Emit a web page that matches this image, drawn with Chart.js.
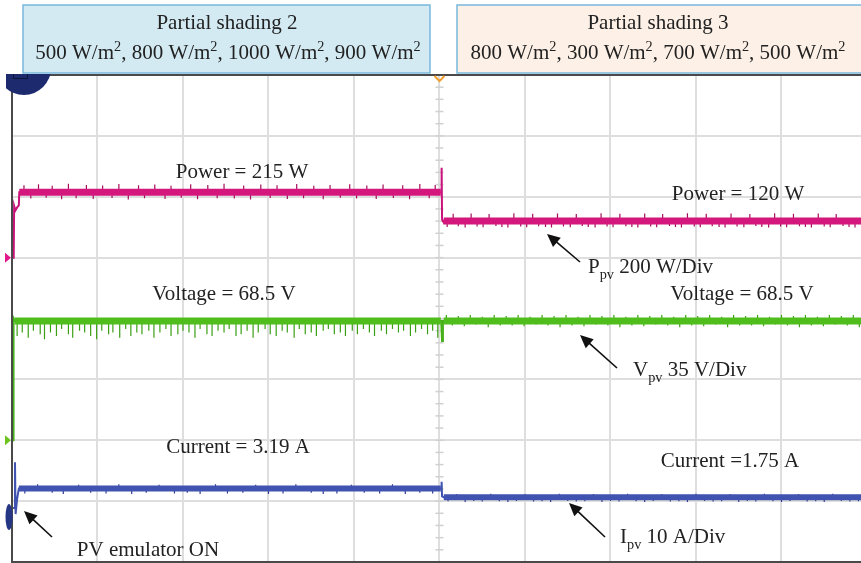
<!DOCTYPE html>
<html>
<head>
<meta charset="utf-8">
<script src="https://cdn.jsdelivr.net/npm/chart.js@4.4.0/dist/chart.umd.min.js"></script>
<style>
html, body { margin: 0; padding: 0; background: #fff; }
#wrap { position: relative; width: 861px; height: 563px; }
</style>
</head>
<body>
<div id="wrap"><canvas id="scope"></canvas></div>
<script>
// time base in screen divisions (10 div across, right edge cut off)
const timeDivs = [0, 1, 2, 3, 4, 5, 6, 7, 8, 9];
const stepT = 5.02;   // irradiance change from shading 2 to shading 3
const endT = 9.93;

// main shape of each channel (x in divisions)
const powerT = [0, 0.02, 0.025, 0.04, 0.06, 0.08, 0.085, 5.02, 5.025, 5.03, 5.04, 9.93];
const powerV = [0, 0, 170, 155, 165, 172, 215, 215, 295, 125, 120, 120];

const voltT = [0, 0.012, 0.018, 0.03, 5.02, 5.03, 5.04, 9.93];
const voltV = [0, 0, 70, 68.5, 68.5, 57, 68.5, 68.5];

const currT = [0, 0.03, 0.035, 0.042, 0.06, 0.08, 5.02, 5.025, 5.03, 5.05, 9.93];
const currV = [0, 0, 7.5, -1.0, 1.5, 3.19, 3.19, 4.3, 1.9, 1.75, 1.75];

// steady levels before / after the step (same as the labels)
const powerLevels = [215, 120];
const voltLevels = [68.5, 68.5];
const currLevels = [3.19, 1.75];
// where each channel settles after switch-on
const settleT = [0.085, 0.03, 0.08];

// switching noise glitches on each trace
const powerSpikeT = [0.14, 0.22, 0.31, 0.4, 0.47, 0.58, 0.66, 0.75, 0.87, 0.95, 1.06, 1.17, 1.25, 1.36, 1.48, 1.55, 1.67, 1.79, 1.86, 1.98,
  2.09, 2.17, 2.29, 2.4, 2.48, 2.6, 2.71, 2.79, 2.91, 3.02, 3.1, 3.22, 3.33, 3.41, 3.53, 3.64, 3.72, 3.84, 3.95, 4.03,
  4.15, 4.26, 4.34, 4.46, 4.57, 4.65, 4.77, 4.88, 4.95,
  5.09, 5.16, 5.22, 5.3, 5.37, 5.44, 5.51, 5.58, 5.66, 5.73, 5.8, 5.87, 5.95, 6.02, 6.09, 6.16, 6.24, 6.31, 6.38, 6.45,
  6.53, 6.6, 6.67, 6.74, 6.82, 6.89, 6.96, 7.03, 7.11, 7.18, 7.25, 7.32, 7.4, 7.47, 7.54, 7.61, 7.69, 7.76, 7.83, 7.9,
  7.98, 8.05, 8.12, 8.19, 8.27, 8.34, 8.41, 8.48, 8.56, 8.63, 8.7, 8.77, 8.85, 8.92, 8.99, 9.06, 9.14, 9.21, 9.28, 9.35,
  9.43, 9.5, 9.57, 9.64, 9.72, 9.79, 9.86];
const powerSpikeV = [238, 194, 241, 197, 236, 192, 243, 195, 239, 193, 237, 196, 242, 191, 238, 195, 240, 193, 236, 197,
  241, 192, 239, 195, 243, 194, 237, 191, 240, 196, 238, 193, 242, 195, 236, 192, 239, 197, 241, 194,
  237, 193, 240, 196, 238, 192, 242, 195, 239,
  101, 144, 103, 99, 145, 102, 100, 143, 104, 101, 99, 146, 102, 100, 144, 103, 101, 99, 145, 102,
  100, 143, 104, 101, 99, 146, 102, 100, 144, 103, 101, 99, 145, 102, 100, 143, 104, 101, 99, 146,
  102, 100, 144, 103, 101, 99, 145, 102, 100, 143, 104, 101, 99, 146, 102, 100, 144, 103, 101, 99,
  145, 102, 100, 143, 104, 101, 99];

const voltSpikeT = [0.06, 0.12, 0.19, 0.25, 0.33, 0.38, 0.45, 0.52, 0.58, 0.66, 0.71, 0.79, 0.85, 0.92, 0.99, 1.05, 1.13, 1.18, 1.26, 1.33,
  1.39, 1.46, 1.52, 1.6, 1.66, 1.73, 1.8, 1.86, 1.94, 2.0, 2.07, 2.14, 2.2, 2.28, 2.34, 2.41, 2.48, 2.54, 2.62, 2.68,
  2.75, 2.82, 2.88, 2.96, 3.02, 3.09, 3.16, 3.22, 3.3, 3.36, 3.43, 3.5, 3.56, 3.64, 3.7, 3.77, 3.84, 3.9, 3.98, 4.04,
  4.11, 4.18, 4.24, 4.32, 4.38, 4.45, 4.52, 4.58, 4.66, 4.72, 4.79, 4.86, 4.92, 4.98,
  5.08, 5.15, 5.22, 5.29, 5.36, 5.43, 5.5, 5.57, 5.64, 5.71, 5.78, 5.85, 5.92, 5.99, 6.06, 6.13, 6.2, 6.27, 6.34, 6.41,
  6.48, 6.55, 6.62, 6.69, 6.76, 6.83, 6.9, 6.97, 7.04, 7.11, 7.18, 7.25, 7.32, 7.39, 7.46, 7.53, 7.6, 7.67, 7.74, 7.81,
  7.88, 7.95, 8.02, 8.09, 8.16, 8.23, 8.3, 8.37, 8.44, 8.51, 8.58, 8.65, 8.72, 8.79, 8.86, 8.93, 9.0, 9.07, 9.14, 9.21,
  9.28, 9.35, 9.42, 9.49, 9.56, 9.63, 9.7, 9.77, 9.84, 9.91];
const voltSpikeV = [60, 62, 59, 63, 61, 58, 62, 60, 64, 61, 59, 63, 62, 60, 58, 63, 61, 62, 59, 64,
  60, 62, 61, 63, 59, 62, 64, 60, 61, 63, 62, 59, 64, 61, 60, 63, 62, 64, 60, 61,
  63, 59, 62, 64, 61, 60, 63, 62, 59, 64, 61, 62, 60, 63, 64, 61, 62, 60, 63, 61,
  64, 62, 60, 63, 61, 64, 62, 63, 60, 62, 64, 61, 63, 59,
  72, 66, 71.5, 65.5, 72, 66.5, 71, 65, 72, 66, 71.5, 66, 72, 65.5, 71, 66.5, 72, 66, 71.5, 65,
  72, 66, 71, 65.5, 72, 66.5, 71.5, 66, 72, 65, 71, 66, 72, 65.5, 71.5, 66.5, 72, 66, 71, 65,
  72, 66, 71.5, 65.5, 72, 66.5, 71, 65, 72, 66, 71.5, 66, 72, 65.5, 71, 66.5, 72, 66, 71.5, 65,
  72, 66, 71, 65.5, 72, 66.5, 71.5, 66, 72, 65];

const currSpikeT = [0.15, 0.3, 0.47, 0.6, 0.78, 0.92, 1.1, 1.25, 1.4, 1.57, 1.72, 1.9, 2.05, 2.2, 2.38, 2.52, 2.7, 2.85, 3.0, 3.17,
  3.32, 3.5, 3.64, 3.8, 3.97, 4.12, 4.3, 4.45, 4.6, 4.77, 4.92,
  5.1, 5.2, 5.3, 5.4, 5.5, 5.6, 5.7, 5.8, 5.9, 6.0, 6.1, 6.2, 6.3, 6.4, 6.5, 6.6, 6.7, 6.8, 6.9, 7.0,
  7.1, 7.2, 7.3, 7.4, 7.5, 7.6, 7.7, 7.8, 7.9, 8.0, 8.1, 8.2, 8.3, 8.4, 8.5, 8.6, 8.7, 8.8, 8.9, 9.0,
  9.1, 9.2, 9.3, 9.4, 9.5, 9.6, 9.7, 9.8, 9.9];
const currSpikeV = [2.4, 3.9, 2.5, 2.3, 3.8, 2.5, 2.4, 3.9, 2.3, 2.5, 3.8, 2.4, 2.5, 2.3, 3.9, 2.4, 2.5, 3.8, 2.3, 2.4,
  3.9, 2.5, 2.3, 2.4, 3.8, 2.5, 2.4, 3.9, 2.3, 2.5, 2.4,
  1.1, 2.3, 1.0, 1.15, 1.05, 2.35, 1.1, 1.0, 1.15, 2.3, 1.05, 1.1, 1.0, 2.35, 1.15, 1.05, 1.1, 2.3, 1.0, 1.15,
  1.05, 2.35, 1.1, 1.0, 1.15, 2.3, 1.05, 1.1, 1.0, 2.35, 1.15, 1.05, 1.1, 2.3, 1.0, 1.15, 1.05, 2.35, 1.1, 1.0,
  1.15, 2.3, 1.05, 1.1, 1.0, 2.35, 1.15, 1.05, 1.1];

function toPoints(ts, vs) {
  return ts.map((t, i) => ({ x: t, y: vs[i] }));
}

// flat part of a trace: thick noise band on both sides of the step
function band(levels, t0) {
  return [
    { x: t0, y: levels[0] }, { x: stepT - 0.005, y: levels[0] }, { x: stepT, y: null },
    { x: stepT + 0.03, y: levels[1] }, { x: endT, y: levels[1] }
  ];
}

// each glitch is a short vertical stroke from the steady level
function glitches(ts, vs, levels) {
  const pts = [];
  ts.forEach((t, i) => {
    const base = t < stepT ? levels[0] : levels[1];
    pts.push({ x: t, y: base }, { x: t, y: vs[i] }, { x: t, y: null });
  });
  return pts;
}

function trace(label, data, axis, color, width) {
  return {
    label: label, data: data, yAxisID: axis,
    borderColor: color, borderWidth: width, borderCapStyle: 'butt',
    pointRadius: 0, tension: 0, spanGaps: false, fill: false
  };
}

const SERIF = '"Liberation Serif", "DejaVu Serif", serif';

// text with superscript / subscript pieces
function drawRuns(ctx, runs, x, baseline, size, align) {
  let total = 0;
  runs.forEach(r => {
    ctx.font = (r.sup || r.sub ? size * 0.68 : size) + 'px ' + SERIF;
    r.w = ctx.measureText(r.t).width;
    total += r.w;
  });
  let cx = align === 'center' ? x - total / 2 : x;
  ctx.textAlign = 'left';
  ctx.textBaseline = 'alphabetic';
  runs.forEach(r => {
    ctx.font = (r.sup || r.sub ? size * 0.68 : size) + 'px ' + SERIF;
    let by = baseline;
    if (r.sup) by = baseline - size * 0.38;
    if (r.sub) by = baseline + size * 0.28;
    ctx.fillText(r.t, cx, by);
    cx += r.w;
  });
}

function arrow(ctx, x1, y1, x2, y2) {
  const a = Math.atan2(y2 - y1, x2 - x1);
  const L = 13, W = 6;
  ctx.strokeStyle = '#111';
  ctx.fillStyle = '#111';
  ctx.lineWidth = 1.6;
  ctx.beginPath();
  ctx.moveTo(x1, y1);
  ctx.lineTo(x2 - Math.cos(a) * L * 0.8, y2 - Math.sin(a) * L * 0.8);
  ctx.stroke();
  ctx.beginPath();
  ctx.moveTo(x2, y2);
  ctx.lineTo(x2 - Math.cos(a) * L + Math.sin(a) * W, y2 - Math.sin(a) * L - Math.cos(a) * W);
  ctx.lineTo(x2 - Math.cos(a) * L - Math.sin(a) * W, y2 - Math.sin(a) * L + Math.cos(a) * W);
  ctx.closePath();
  ctx.fill();
}

const scopeDecor = {
  id: 'scopeDecor',
  beforeDatasetsDraw(chart) {
    const ctx = chart.ctx, area = chart.chartArea;
    const cx = chart.scales.x.getPixelForValue(5);
    // minor ticks along the centre graticule line
    ctx.save();
    ctx.strokeStyle = '#d0d0d0';
    ctx.lineWidth = 1.5;
    const divH = (area.bottom - area.top) / 8;
    for (let k = 1; k < 40; k++) {
      const y = area.top + k * divH / 5;
      ctx.beginPath();
      ctx.moveTo(cx - 4, y);
      ctx.lineTo(cx + 4, y);
      ctx.stroke();
    }
    ctx.restore();
  },
  afterDraw(chart) {
    const ctx = chart.ctx, area = chart.chartArea;
    const xs = chart.scales.x;
    ctx.save();

    // frame
    ctx.strokeStyle = '#4a4a4a';
    ctx.lineWidth = 2;
    ctx.beginPath();
    ctx.moveTo(chart.width, area.top);
    ctx.lineTo(area.left, area.top);
    ctx.lineTo(area.left, area.bottom);
    ctx.lineTo(chart.width, area.bottom);
    ctx.stroke();

    // channel reference markers on the left edge
    const pz = chart.scales.yP.getPixelForValue(0);
    const vz = chart.scales.yV.getPixelForValue(0);
    const iz = chart.scales.yI.getPixelForValue(0);
    ctx.fillStyle = '#e0188a';
    ctx.beginPath(); ctx.moveTo(5, pz - 5); ctx.lineTo(11, pz); ctx.lineTo(5, pz + 5); ctx.fill();
    ctx.fillStyle = '#6cc41c';
    ctx.beginPath(); ctx.moveTo(5, vz - 5); ctx.lineTo(11, vz); ctx.lineTo(5, vz + 5); ctx.fill();
    ctx.fillStyle = '#253685';
    ctx.beginPath(); ctx.ellipse(9, iz + 9, 3.5, 13, 0, 0, Math.PI * 2); ctx.fill();

    // trigger marker
    const cx = xs.getPixelForValue(5);
    ctx.strokeStyle = '#f0a030';
    ctx.lineWidth = 2;
    ctx.beginPath(); ctx.moveTo(cx - 5, area.top + 1); ctx.lineTo(cx, area.top + 6); ctx.lineTo(cx + 5, area.top + 1); ctx.stroke();

    // navy badge in the top-left corner
    ctx.save();
    ctx.beginPath(); ctx.rect(6, 74, 60, 40); ctx.clip();
    ctx.fillStyle = '#1d2b6e';
    ctx.beginPath(); ctx.arc(24, 68, 27, 0, Math.PI * 2); ctx.fill();
    ctx.strokeStyle = '#0e153d';
    ctx.lineWidth = 1;
    ctx.strokeRect(13.5, 72.5, 14, 6);
    ctx.restore();

    // captions
    ctx.fillStyle = '#d3eaf3';
    ctx.fillRect(23, 5, 407, 68);
    ctx.strokeStyle = '#78b8dc';
    ctx.lineWidth = 1.5;
    ctx.strokeRect(23, 5, 407, 68);
    ctx.fillStyle = '#fdf0e6';
    ctx.fillRect(457, 5, 410, 68);
    ctx.strokeRect(457, 5, 410, 68);

    ctx.fillStyle = '#222';
    const S = 21;
    drawRuns(ctx, [{ t: 'Partial shading 2' }], 227, 29, S, 'center');
    drawRuns(ctx, [{ t: '500 W/m' }, { t: '2', sup: 1 }, { t: ', 800 W/m' }, { t: '2', sup: 1 },
      { t: ', 1000 W/m' }, { t: '2', sup: 1 }, { t: ', 900 W/m' }, { t: '2', sup: 1 }], 228, 59, S, 'center');
    drawRuns(ctx, [{ t: 'Partial shading 3' }], 658, 29, S, 'center');
    drawRuns(ctx, [{ t: '800 W/m' }, { t: '2', sup: 1 }, { t: ', 300 W/m' }, { t: '2', sup: 1 },
      { t: ', 700 W/m' }, { t: '2', sup: 1 }, { t: ', 500 W/m' }, { t: '2', sup: 1 }], 658, 59, S, 'center');

    // value labels
    drawRuns(ctx, [{ t: 'Power = ' + powerLevels[0] + ' W' }], 242, 178, S, 'center');
    drawRuns(ctx, [{ t: 'Voltage = ' + voltLevels[0] + ' V' }], 224, 300, S, 'center');
    drawRuns(ctx, [{ t: 'Current = ' + currLevels[0] + ' A' }], 238, 453, S, 'center');
    drawRuns(ctx, [{ t: 'PV emulator ON' }], 148, 556, S, 'center');
    drawRuns(ctx, [{ t: 'Power = ' + powerLevels[1] + ' W' }], 738, 200, S, 'center');
    drawRuns(ctx, [{ t: 'Voltage = ' + voltLevels[1] + ' V' }], 742, 300, S, 'center');
    drawRuns(ctx, [{ t: 'Current =' + currLevels[1] + ' A' }], 730, 467, S, 'center');

    // probe scale notes
    drawRuns(ctx, [{ t: 'P' }, { t: 'pv', sub: 1 }, { t: ' 200 W/Div' }], 588, 273, S, 'left');
    drawRuns(ctx, [{ t: 'V' }, { t: 'pv', sub: 1 }, { t: ' 35 V/Div' }], 633, 376, S, 'left');
    drawRuns(ctx, [{ t: 'I' }, { t: 'pv', sub: 1 }, { t: ' 10 A/Div' }], 620, 543, S, 'left');

    arrow(ctx, 580, 262, 547, 234);
    arrow(ctx, 617, 368, 580, 335);
    arrow(ctx, 605, 537, 569, 503);
    arrow(ctx, 52, 537, 24, 511);

    ctx.restore();
  }
};

const ctx = document.getElementById('scope').getContext('2d');
const chart = new Chart(ctx, {
  type: 'line',
  data: {
    datasets: [
      trace('Ppv band', band(powerLevels, settleT[0]), 'yP', '#d3177d', 7),
      trace('Ppv', toPoints(powerT, powerV), 'yP', '#c8137a', 2),
      trace('Ppv noise', glitches(powerSpikeT, powerSpikeV, powerLevels), 'yP', '#a10f5c', 1.2),
      trace('Vpv band', band(voltLevels, settleT[1]), 'yV', '#4fbd1c', 7),
      trace('Vpv', toPoints(voltT, voltV), 'yV', '#45b018', 2),
      trace('Vpv noise', glitches(voltSpikeT, voltSpikeV, voltLevels), 'yV', '#3a9f14', 1.2),
      trace('Ipv band', band(currLevels, settleT[2]), 'yI', '#4153b0', 6),
      trace('Ipv', toPoints(currT, currV), 'yI', '#4153b0', 2),
      trace('Ipv noise', glitches(currSpikeT, currSpikeV, currLevels), 'yI', '#2b3a92', 1.2)
    ]
  },
  options: {
    responsive: true,
    maintainAspectRatio: false,
    animation: false,
    parsing: false,
    normalized: true,
    layout: { padding: { left: 12, top: 75, right: 0, bottom: 1 } },
    plugins: { legend: { display: false }, tooltip: { enabled: false } },
    scales: {
      x: {
        type: 'linear', min: 0, max: endT,
        afterBuildTicks: s => { s.ticks = timeDivs.map(v => ({ value: v })); },
        ticks: { display: false },
        grid: { color: '#dedede', lineWidth: 2, drawTicks: false },
        border: { display: false }
      },
      // 200 W/Div, zero at 3 div below top
      yP: {
        position: 'left', min: -1000, max: 600,
        ticks: { display: false, stepSize: 200 },
        grid: { color: '#dedede', lineWidth: 2, drawTicks: false },
        border: { display: false }
      },
      // 35 V/Div, zero at 2 div above bottom
      yV: { display: false, min: -70, max: 210 },
      // 10 A/Div
      yI: { display: false, min: -8.87, max: 71.13 }
    }
  },
  plugins: [scopeDecor]
});
</script>
</body>
</html>
